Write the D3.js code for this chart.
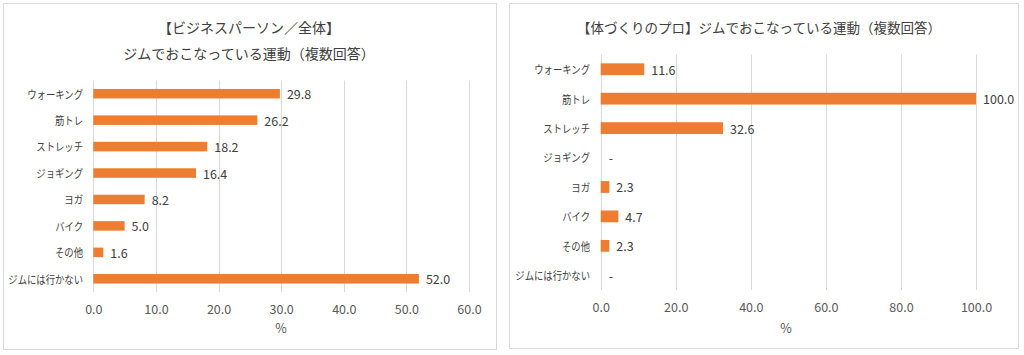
<!DOCTYPE html>
<html><head><meta charset="utf-8">
<script src="https://cdn.jsdelivr.net/npm/d3@7"></script>
<style>
html,body{margin:0;padding:0;background:#fff;}
svg{display:block;font-family:"Noto Sans CJK JP","Noto Sans",sans-serif;}
</style></head>
<body><svg id="c" width="1024" height="355"></svg>
<script>
const categories = ["ウォーキング","筋トレ","ストレッチ","ジョギング","ヨガ","バイク","その他","ジムには行かない"];
const businessValues = [29.8, 26.2, 18.2, 16.4, 8.2, 5.0, 1.6, 52.0];
const proValues = [11.6, 100.0, 32.6, 0, 2.3, 4.7, 2.3, 0];
const businessTicks = [0, 10, 20, 30, 40, 50, 60];
const proTicks = [0, 20, 40, 60, 80, 100];
const leftTitle = ["【ビジネスパーソン／全体】", "ジムでおこなっている運動（複数回答）"];
const rightTitle = ["【体づくりのプロ】ジムでおこなっている運動（複数回答）"];
const axisTitle = "%";

const svg = d3.select("#c");
const fmt = v => v === 0 ? "-" : d3.format(".1f")(v);

function panel(o){
  const g = svg.append("g");
  g.append("rect").attr("x",o.bx+0.5).attr("y",o.by+0.5).attr("width",o.bw).attr("height",o.bh)
    .attr("fill","#fff").attr("stroke","#d9d9d9").attr("stroke-width",1);
  o.title.forEach((t,i)=>{
    g.append("text").attr("x",o.tx).attr("y",o.ty[i]).attr("text-anchor","middle")
      .attr("dominant-baseline","central").attr("font-size",o.tfs).attr("fill","#404040").text(t);
  });
  const x = d3.scaleLinear().domain(o.domain).range([o.x0,o.x1]);
  const y = d3.scaleBand().domain(categories).range([o.y0,o.y1]).paddingInner(o.pad).paddingOuter(o.pad/2);
  g.append("g").selectAll("line").data(o.ticks).join("line")
    .attr("x1",d=>Math.round(x(d))+0.5).attr("x2",d=>Math.round(x(d))+0.5)
    .attr("y1",o.y0).attr("y2",o.y1).attr("stroke","#d9d9d9").attr("stroke-width",1);
  const ax = d3.axisBottom(x).tickValues(o.ticks).tickFormat(d3.format(".1f")).tickSize(0).tickPadding(0);
  const axg = g.append("g").attr("transform",`translate(0,${o.tickY})`).call(ax);
  axg.select(".domain").remove();
  axg.selectAll("text").attr("dy",null).attr("dominant-baseline","central")
    .attr("font-size",12.5).attr("fill","#595959").attr("font-family",'"Noto Sans CJK JP",sans-serif');
  const ay = d3.axisLeft(y).tickSize(0).tickPadding(0);
  const ayg = g.append("g").attr("transform",`translate(${o.catX},0) scale(0.85,1)`).call(ay);
  ayg.select(".domain").remove();
  ayg.selectAll("text").attr("dy",null).attr("dominant-baseline","central")
    .attr("font-size",11).attr("fill","#404040").attr("font-family",'"Noto Sans CJK JP",sans-serif');
  g.append("g").selectAll("rect").data(o.values).join("rect")
    .attr("x",x(0)).attr("y",(d,i)=>y(categories[i]))
    .attr("width",d=>x(d)-x(0)).attr("height",y.bandwidth())
    .attr("fill","#ED7D31");
  g.append("g").selectAll("text").data(o.values).join("text")
    .attr("x",d=>x(d)+(d===0?8:7)).attr("y",(d,i)=>y(categories[i])+y.bandwidth()/2)
    .attr("dominant-baseline","central").attr("font-size",12.5).attr("fill","#404040")
    .text(fmt);
  g.append("text").attr("x",o.pctX).attr("y",o.pctY).attr("text-anchor","middle")
    .attr("dominant-baseline","central").attr("font-size",12.5).attr("fill","#595959").text(axisTitle);
}

panel({bx:3,by:3,bw:493,bh:346,title:leftTitle,tx:249,ty:[27,53],tfs:14,
  domain:[0,60],x0:93.3,x1:469,y0:80.5,y1:292,pad:0.64,ticks:businessTicks,values:businessValues,
  tickY:308,catX:83,pctX:281,pctY:327});
panel({bx:509,by:3,bw:509,bh:345,title:rightTitle,tx:759,ty:[27],tfs:13.5,
  domain:[0,100],x0:600.7,x1:976,y0:54.5,y1:290,pad:0.6,ticks:proTicks,values:proValues,
  tickY:306,catX:590,pctX:786,pctY:327});
</script></body></html>
